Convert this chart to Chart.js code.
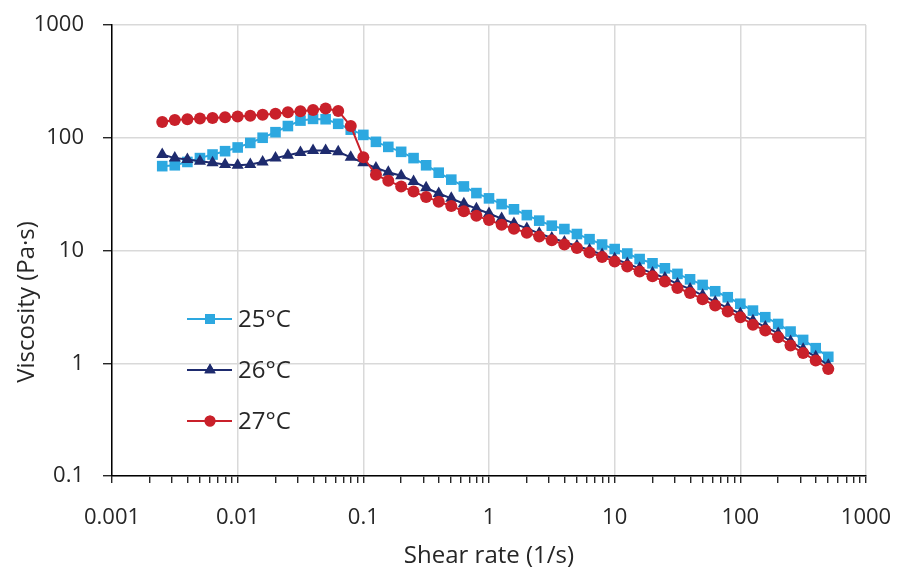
<!DOCTYPE html>
<html><head><meta charset="utf-8">
<script src="https://cdn.jsdelivr.net/npm/chart.js@4/dist/chart.umd.min.js"></script>
<style>html,body{margin:0;padding:0;background:#fff;}#wrap{width:899px;height:571px;position:relative;}</style>
</head><body><div id="wrap"><canvas id="c"></canvas></div>
<script>
// Shear rate (1/s)
const shearRate = [0.00251,0.00316,0.00398,0.00501,0.00631,0.00794,
  0.01,0.0126,0.0158,0.02,0.0251,0.0316,0.0398,0.0501,0.0631,0.0794,
  0.1,0.126,0.158,0.2,0.251,0.316,0.398,0.501,0.631,0.794,
  1,1.26,1.58,2,2.51,3.16,3.98,5.01,6.31,7.94,
  10,12.6,15.8,20,25.1,31.6,39.8,50.1,63.1,79.4,
  100,126,158,200,251,316,398,501];
// Viscosity (Pa·s)
const visc25 = [56,57,61,66,71,76,
  82,90,100,112,127,142,147,146,133,118,
  106,92,83,75,66,57,49,42.5,37,32.3,
  29,25.8,23.2,20.6,18.4,16.6,15.5,14.0,12.6,11.3,
  10.3,9.4,8.4,7.7,6.95,6.2,5.55,4.95,4.35,3.85,
  3.37,2.93,2.56,2.23,1.91,1.61,1.36,1.14];
const visc26 = [71,66,64,62,60,58,
  57,58,61,66,70,74,77,77,75,67,
  60,54,49.5,46,41,36,32,29,26,23.5,
  21.3,19.2,17.4,15.7,14.2,12.9,11.9,11.0,10.1,9.2,
  8.45,7.65,6.95,6.3,5.7,5.05,4.55,4.0,3.5,3.1,
  2.75,2.38,2.1,1.84,1.56,1.33,1.14,0.96];
const visc27 = [138,144,146,148,150,152,
  154,157,160,163,168,172,176,182,173,127,
  67,47,41.5,37,33.3,29.8,27.1,24.8,22.3,20.3,
  18.6,16.9,15.6,14.4,13.3,12.3,11.3,10.5,9.6,8.75,
  8.0,7.2,6.5,5.9,5.3,4.65,4.2,3.7,3.25,2.88,
  2.56,2.2,1.95,1.7,1.44,1.23,1.06,0.89];
const seriesLabels = ['25°C','26°C','27°C'];
const xMajorTicks = [0.001,0.01,0.1,1,10,100,1000];
const xTickLabels = ['0.001','0.01','0.1','1','10','100','1000'];
const yMajorTicks = [0.1,1,10,100,1000];
const yTickLabels = ['0.1','1','10','100','1000'];

const colors = ['#2DA8E0','#1E2B6E','#C9202A'];
const styles = ['rect','triangle','circle'];
const radii = [7.5,7,6];
const seriesData = [visc25, visc26, visc27];
const FONT = "'Open Sans', 'Noto Sans', sans-serif";
const TXT = '#262626';

const datasets = seriesData.map((vals, i) => ({
  label: seriesLabels[i],
  data: shearRate.map((x, j) => ({x: x, y: vals[j]})),
  borderColor: colors[i],
  backgroundColor: colors[i],
  borderWidth: 2,
  pointStyle: styles[i],
  pointRadius: radii[i],
  pointBorderWidth: 0,
  pointBackgroundColor: colors[i],
  pointBorderColor: colors[i],
  tension: 0,
  order: 3 - i
}));

function xTickList() {
  const out = [];
  for (let d = 0; d < xMajorTicks.length - 1; d++) {
    for (let m = 1; m <= 9; m++) {
      out.push({value: +(xMajorTicks[d] * m).toPrecision(6), major: m === 1});
    }
  }
  out.push({value: xMajorTicks[xMajorTicks.length - 1], major: true});
  return out;
}

function noOverflow(s) {
  s.paddingTop = 0; s.paddingBottom = 0; s.paddingLeft = 0; s.paddingRight = 0;
}

const overlay = {
  id: 'overlay',
  afterDraw(chart) {
    const ctx = chart.ctx;
    const ca = chart.chartArea;
    ctx.save();
    // y-axis title
    ctx.translate(27, 302);
    ctx.rotate(-Math.PI / 2);
    ctx.font = '24px ' + FONT;
    ctx.fillStyle = TXT;
    ctx.textAlign = 'center';
    ctx.textBaseline = 'middle';
    ctx.fillText('Viscosity (Pa·s)', 0, 0);
    ctx.restore();
    // legend
    const rows = [319, 370, 421];
    ctx.save();
    ctx.font = '24px ' + FONT;
    ctx.textBaseline = 'middle';
    ctx.textAlign = 'left';
    for (let i = 0; i < 3; i++) {
      const y = rows[i];
      const x0 = ca.left + 75, x1 = ca.left + 120, xm = ca.left + 98;
      ctx.strokeStyle = colors[i];
      ctx.lineWidth = 2;
      ctx.beginPath(); ctx.moveTo(x0, y); ctx.lineTo(x1, y); ctx.stroke();
      ctx.fillStyle = colors[i];
      Chart.helpers.drawPoint(ctx, {pointStyle: styles[i], radius: radii[i] - 0.5, borderWidth: 0, rotation: 0}, xm, y);
      ctx.fill();
      ctx.fillStyle = TXT;
      ctx.fillText(seriesLabels[i], ca.left + 126, y + 1);
    }
    ctx.restore();
  }
};

new Chart(document.getElementById('c'), {
  type: 'line',
  data: { datasets },
  plugins: [overlay],
  options: {
    responsive: true,
    maintainAspectRatio: false,
    animation: false,
    layout: { padding: { top: 25, right: 33, left: 0, bottom: 0 } },
    plugins: { legend: { display: false }, tooltip: { enabled: false } },
    scales: {
      x: {
        type: 'logarithmic',
        min: 0.001, max: 1000,
        afterBuildTicks: (s) => { s.ticks = xTickList(); },
        afterFit: (s) => { s.height = 95; noOverflow(s); },
        border: { display: true, color: '#000', width: 1.5 },
        grid: {
          color: (c) => (c.tick && c.tick.major) ? '#D9D9D9' : 'rgba(0,0,0,0)',
          lineWidth: 1.5,
          drawTicks: true, tickLength: 7, tickColor: '#000', tickWidth: 1.2
        },
        ticks: {
          autoSkip: false, maxRotation: 0, padding: 22,
          color: TXT, font: { family: FONT, size: 22 },
          callback: (v) => { const k = xMajorTicks.indexOf(v); return k >= 0 ? xTickLabels[k] : ''; }
        },
        title: { display: true, text: 'Shear rate (1/s)', color: TXT, font: { family: FONT, size: 24 }, padding: { top: 0, bottom: 0 } }
      },
      y: {
        type: 'logarithmic',
        min: 0.1, max: 1000,
        afterBuildTicks: (s) => { s.ticks = yMajorTicks.map(v => ({value: v, major: true})); },
        afterFit: (s) => { s.width = 112; noOverflow(s); },
        border: { display: true, color: '#000', width: 1.5 },
        grid: {
          color: '#D9D9D9', lineWidth: 1.5,
          drawTicks: true, tickLength: 9, tickColor: '#000', tickWidth: 1.2
        },
        ticks: {
          autoSkip: false, padding: 19,
          color: TXT, font: { family: FONT, size: 22 },
          callback: (v) => { const k = yMajorTicks.indexOf(v); return k >= 0 ? yTickLabels[k] : ''; }
        }
      }
    }
  }
});
</script></body></html>
